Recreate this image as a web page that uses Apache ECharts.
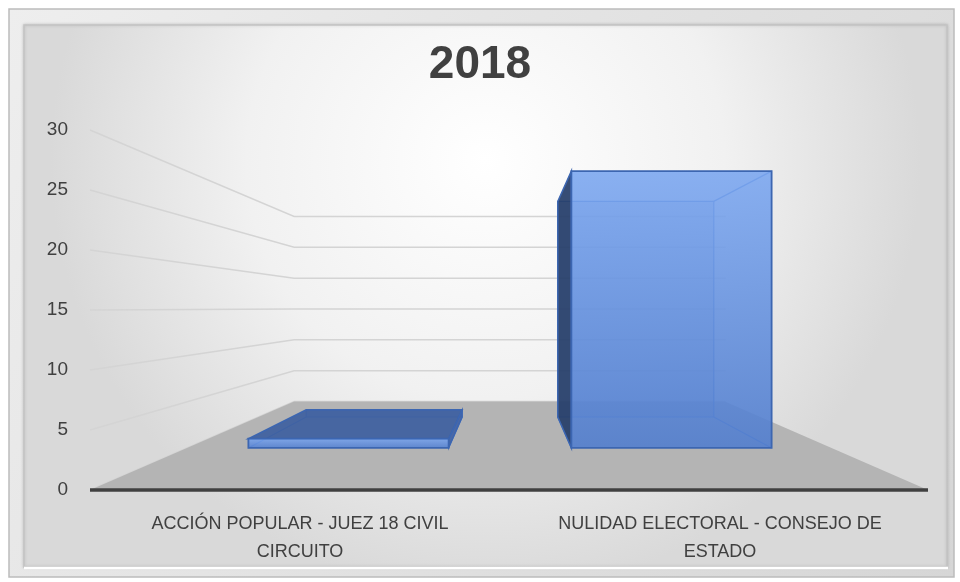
<!DOCTYPE html>
<html lang="es">
<head>
<meta charset="utf-8">
<title>2018</title>
<script src="https://cdn.jsdelivr.net/npm/echarts@6/dist/echarts.min.js"></script>
<style>
  html, body { margin: 0; padding: 0; background: #fff; }
  #main { width: 960px; height: 582px; }
</style>
</head>
<body>
<div id="main"></div>
<script>
// datos
var categories = ['ACCIÓN POPULAR - JUEZ 18 CIVIL\nCIRCUITO', 'NULIDAD ELECTORAL - CONSEJO DE\nESTADO'];
var values = [1, 30];
var yTicks = [0, 5, 10, 15, 20, 25, 30];

// perspectiva (escala relativa al plano frontal)
var HORIZON = 15.17;   // valor del eje a la altura del horizonte
var K_WALL = 0.514;    // pared del fondo
var K_FRONT = 0.769;   // cara frontal de las barras
var K_BACK = 0.599;    // cara trasera de las barras
var FONT = '"Liberation Sans Narrow", "Liberation Sans", sans-serif';

function proj(p, v, k) {
    return [v[0] + (p[0] - v[0]) * k, v[1] + (p[1] - v[1]) * k];
}

function vanish(params, api) {
    var cs = params.coordSys;
    return [cs.x + cs.width / 2, api.coord([0, HORIZON])[1]];
}

// paredes: lineas de cuadricula
function renderWalls(params, api) {
    var cs = params.coordSys;
    var v = vanish(params, api);
    var y = api.coord([0, api.value(1)])[1];
    var a = [cs.x, y];
    var b = proj(a, v, K_WALL);
    var c = proj([cs.x + cs.width, y], v, K_WALL);
    return {
        type: 'polyline',
        shape: { points: [a, b, c] },
        style: { stroke: '#d4d4d4', lineWidth: 1.5, fill: null },
        silent: true
    };
}

// suelo
function renderFloor(params, api) {
    var cs = params.coordSys;
    var v = vanish(params, api);
    var y0 = api.coord([0, 0])[1];
    var l = [cs.x, y0], r = [cs.x + cs.width - 2, y0];
    return {
        type: 'group',
        children: [{
            type: 'polygon',
            shape: { points: [l, r, proj(r, v, K_WALL), proj(l, v, K_WALL)] },
            style: { fill: '#b4b4b4' },
            silent: true
        }, {
            type: 'line',
            shape: { x1: l[0], y1: y0, x2: r[0], y2: y0 },
            style: { stroke: '#404040', lineWidth: 3.5 },
            silent: true
        }]
    };
}

// barras 3D
function renderBar(params, api) {
    var v = vanish(params, api);
    var c0 = api.coord([api.value(0), 0]);
    var c1 = api.coord([api.value(0), api.value(1)]);
    var half = api.size([1, 0])[0] * 0.31;
    var xl = c0[0] - half, xr = c0[0] + half, yb = c0[1], yt = c1[1];
    function F(x, y) { return proj([x, y], v, K_FRONT); }
    function B(x, y) { return proj([x, y], v, K_BACK); }
    var edge = '#3c66b1';
    var kids = [];
    // aristas ocultas
    kids.push({ type: 'polygon', shape: { points: [B(xl, yt), B(xr, yt), B(xr, yb), B(xl, yb)] },
        style: { fill: 'rgba(70,110,190,0.25)', stroke: '#4d7bcb', lineWidth: 1.2 } });
    kids.push({ type: 'polyline', shape: { points: [F(xr, yt), B(xr, yt)] }, style: { stroke: '#4d7bcb', lineWidth: 1.2, fill: null } });
    kids.push({ type: 'polyline', shape: { points: [F(xr, yb), B(xr, yb)] }, style: { stroke: '#4d7bcb', lineWidth: 1.2, fill: null } });
    kids.push({ type: 'polyline', shape: { points: [F(xl, yb), B(xl, yb)] }, style: { stroke: '#4d7bcb', lineWidth: 1.2, fill: null } });
    // caras laterales visibles
    if (xl > v[0]) {
        kids.push({ type: 'polygon', shape: { points: [F(xl, yt), B(xl, yt), B(xl, yb), F(xl, yb)] },
            style: { fill: 'rgba(38,62,105,0.92)', stroke: edge, lineWidth: 1.5 } });
    }
    if (xr < v[0]) {
        kids.push({ type: 'polygon', shape: { points: [F(xr, yt), B(xr, yt), B(xr, yb), F(xr, yb)] },
            style: { fill: 'rgba(60,95,165,0.9)', stroke: edge, lineWidth: 1.2 } });
    }
    if (yt > v[1]) {
        kids.push({ type: 'polygon', shape: { points: [F(xl, yt), F(xr, yt), B(xr, yt), B(xl, yt)] },
            style: { fill: 'rgba(62,96,160,0.92)', stroke: edge, lineWidth: 1.5 } });
    }
    // cara frontal
    var f1 = F(xl, yt), f2 = F(xr, yb);
    kids.push({ type: 'rect',
        shape: { x: f1[0], y: f1[1], width: f2[0] - f1[0], height: f2[1] - f1[1] },
        style: {
            fill: new echarts.graphic.LinearGradient(0, 0, 0, 1, [
                { offset: 0, color: 'rgba(122,166,240,0.88)' },
                { offset: 1, color: 'rgba(82,126,206,0.9)' }
            ]),
            stroke: edge, lineWidth: 1.8
        } });
    return { type: 'group', children: kids };
}

var myChart = echarts.init(document.getElementById('main'));

myChart.setOption({
    animation: false,
    backgroundColor: '#ffffff',
    graphic: [{
        type: 'rect', z: -10, silent: true,
        shape: { x: 9, y: 9, width: 945, height: 568 },
        style: {
            fill: new echarts.graphic.LinearGradient(0, 0, 1, 1, [
                { offset: 0, color: '#eeeeee' }, { offset: 1, color: '#d6d6d6' }
            ]),
            stroke: '#bcbcbc', lineWidth: 1.5
        }
    }, {
        type: 'rect', z: -9, silent: true,
        shape: { x: 24, y: 25, width: 923, height: 542 },
        style: {
            fill: new echarts.graphic.RadialGradient(0.5, 0.25, 0.8, [
                { offset: 0, color: '#ffffff' },
                { offset: 0.55, color: '#f1f1f1' },
                { offset: 1, color: '#d9d9d9' }
            ]),
            stroke: '#c4c4c4', lineWidth: 1.5,
            shadowColor: 'rgba(0,0,0,0.15)', shadowBlur: 3
        }
    }, {
        type: 'line', z: -8, silent: true,
        shape: { x1: 24, y1: 568, x2: 948, y2: 568 },
        style: { stroke: '#ffffff', lineWidth: 2.5 }
    }],
    title: {
        text: '2018',
        left: 'center',
        top: 37,
        textStyle: { fontFamily: FONT, fontSize: 46, fontWeight: 'bold', color: '#404040' }
    },
    grid: { left: 90, right: 30, top: 130, bottom: 92 },
    xAxis: {
        type: 'category',
        data: categories,
        z: 10,
        axisLine: { show: false },
        axisTick: { show: false },
        axisLabel: {
            fontFamily: FONT, fontSize: 18, color: '#404040',
            lineHeight: 28, margin: 20, interval: 0
        }
    },
    yAxis: {
        type: 'value',
        min: 0, max: 30, interval: 5,
        axisLine: { show: false },
        axisTick: { show: false },
        splitLine: { show: false },
        axisLabel: { fontFamily: FONT, fontSize: 19, color: '#404040', margin: 22 }
    },
    series: [{
        type: 'custom',
        name: 'paredes',
        renderItem: renderWalls,
        data: yTicks.map(function (t) { return [0, t]; }),
        z: 1,
        silent: true
    }, {
        type: 'custom',
        name: 'suelo',
        renderItem: renderFloor,
        data: [[0, 0]],
        z: 2,
        silent: true
    }, {
        type: 'custom',
        name: '2018',
        renderItem: renderBar,
        data: values.map(function (v, i) { return [i, v]; }),
        z: 3
    }]
});
</script>
</body>
</html>
